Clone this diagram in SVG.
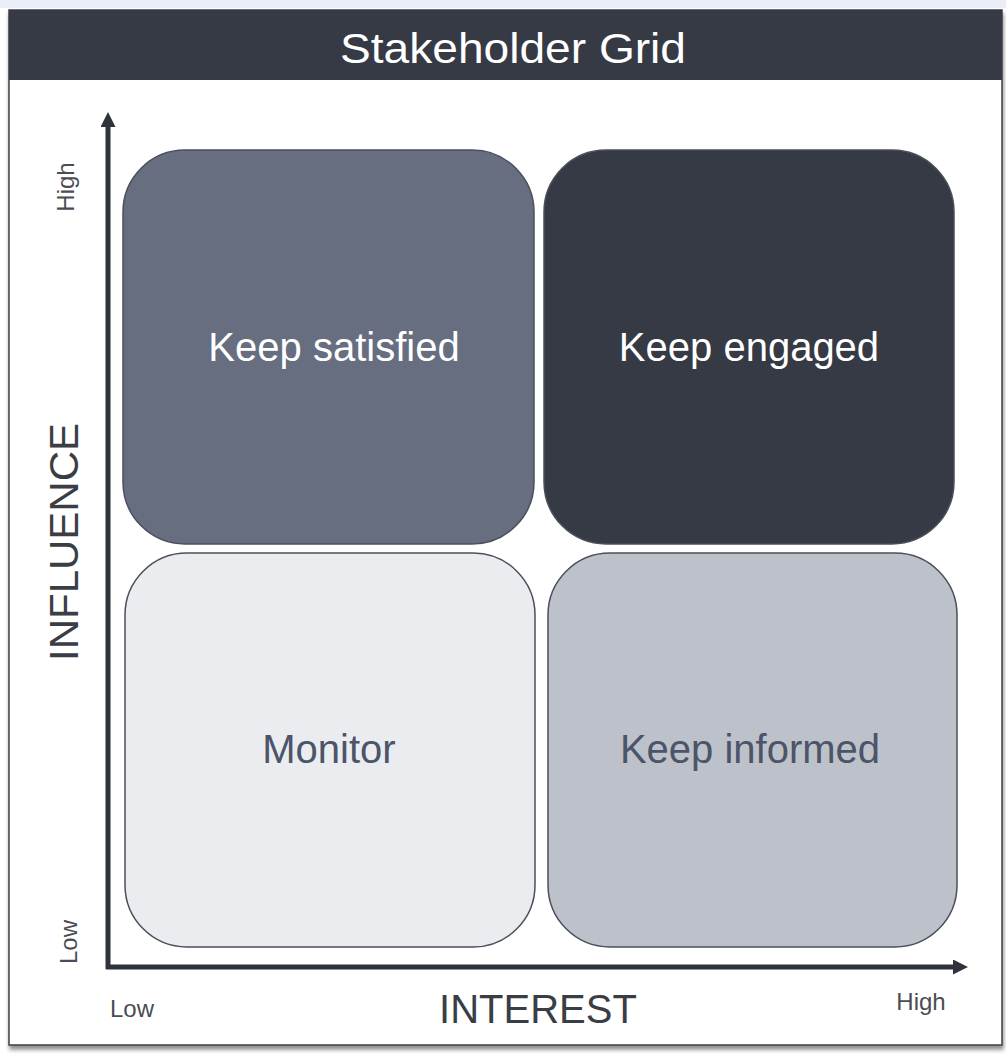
<svg xmlns="http://www.w3.org/2000/svg" width="1006" height="1059" viewBox="0 0 1006 1059">
  <style>
    .quad { stroke: #4a4f5a; stroke-width: 1.5; }
    .lbl { font-family: "Liberation Sans", Arial, sans-serif; font-size: 40px; text-anchor: middle; }
    .axis-title { font-family: "Liberation Sans", Arial, sans-serif; font-size: 40px; fill: #3a3d44; text-anchor: middle; }
    .tick { font-family: "Liberation Sans", Arial, sans-serif; font-size: 24px; fill: #4a4d54; text-anchor: middle; }
    .axis { stroke: #2f333b; stroke-width: 5; fill: none; }
  </style>
  <defs>
    <marker id="arrow" viewBox="0 0 10 10" refX="6" refY="5" markerWidth="3" markerHeight="3" orient="auto" markerUnits="strokeWidth">
      <path d="M0,0 L10,5 L0,10 z" fill="#2f333b"/>
    </marker>
    <filter id="shadow" x="-5%" y="-5%" width="110%" height="110%">
      <feDropShadow dx="1" dy="4" stdDeviation="2" flood-color="#000" flood-opacity="0.45"/>
    </filter>
  </defs>

  <!-- page background -->
  <rect x="0" y="0" width="1006" height="1059" fill="#ffffff"/>
  <rect x="0" y="0" width="1006" height="8" fill="#e9eef7"/>

  <!-- outer card -->
  <rect x="9" y="10" width="993" height="1035" fill="#ffffff" stroke="#3c3f45" stroke-width="1.5" filter="url(#shadow)"/>

  <!-- title bar -->
  <g id="title">
    <rect x="9" y="10" width="993" height="70" fill="#353a45"/>
    <text x="513" y="63" font-family="'Liberation Sans', Arial, sans-serif" font-size="43" fill="#ffffff" text-anchor="middle" textLength="346" lengthAdjust="spacingAndGlyphs">Stakeholder Grid</text>
  </g>

  <!-- quadrants -->
  <g id="keep-satisfied">
    <rect class="quad" x="123" y="150" width="411" height="394" rx="62" fill="#666e80"/>
    <text class="lbl" x="334" y="361" fill="#ffffff">Keep satisfied</text>
  </g>
  <g id="keep-engaged">
    <rect class="quad" x="544" y="150" width="410" height="394" rx="62" fill="#353a44"/>
    <text class="lbl" x="749" y="361" fill="#ffffff">Keep engaged</text>
  </g>
  <g id="monitor">
    <rect class="quad" x="125" y="553" width="410" height="394" rx="62" fill="#ebecf0"/>
    <text class="lbl" x="329" y="763" fill="#4b5468">Monitor</text>
  </g>
  <g id="keep-informed">
    <rect class="quad" x="548" y="553" width="409" height="394" rx="62" fill="#bdc1ca"/>
    <text class="lbl" x="750" y="763" fill="#4b5468">Keep informed</text>
  </g>

  <!-- axes -->
  <g id="connectors">
    <path class="axis" d="M108,969 L108,118" marker-end="url(#arrow)"/>
    <path class="axis" d="M106,967 L962,967" marker-end="url(#arrow)"/>
  </g>

  <!-- axis labels -->
  <g id="axis-labels">
    <text class="axis-title" transform="translate(78,542) rotate(-90)" textLength="238" lengthAdjust="spacingAndGlyphs">INFLUENCE</text>
    <text class="axis-title" x="538" y="1023">INTEREST</text>
    <text class="tick" transform="translate(74,187) rotate(-90)">High</text>
    <text class="tick" transform="translate(77,942) rotate(-90)">Low</text>
    <text class="tick" x="132" y="1017">Low</text>
    <text class="tick" x="921" y="1010">High</text>
  </g>
</svg>
